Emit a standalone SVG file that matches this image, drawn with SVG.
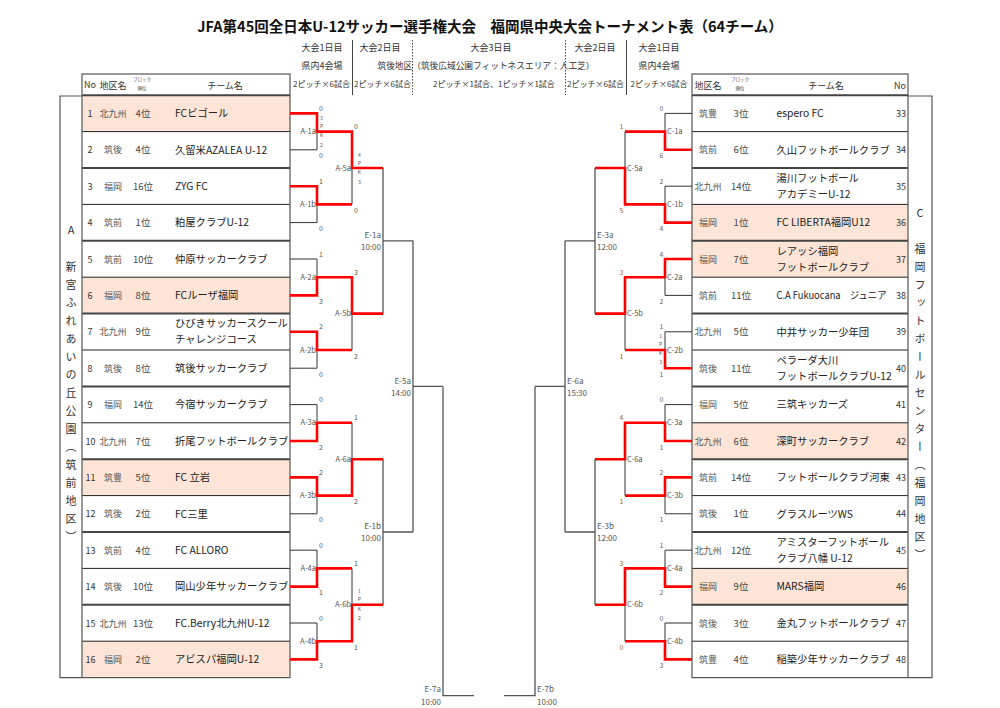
<svg xmlns="http://www.w3.org/2000/svg" width="1000" height="708" viewBox="0 0 1000 708">
<style>
text{font-family:"Noto Sans CJK JP","Noto Sans",sans-serif;}
.ttl{font-size:14.5px;font-weight:bold;fill:#111;text-anchor:middle;}
.hd{font-size:9px;fill:#333;text-anchor:middle;}
.hd2{font-size:8px;fill:#333;text-anchor:middle;}
.th{font-size:9px;fill:#333;}
.tiny{font-size:4.5px;fill:#444;text-anchor:middle;}
.no{font-size:9px;fill:#333;}
.rg{font-size:9px;fill:#555;text-anchor:middle;}
.rk{font-size:9.5px;fill:#444;text-anchor:middle;}
.t{font-size:10.3px;fill:#222;}
.sc{font-size:7px;fill:#555;}
.scr{font-size:7px;fill:#666;text-anchor:end;}
.scr2{font-size:7px;fill:#9a6a2a;text-anchor:end;}
.pk{font-size:5px;fill:#555;text-anchor:middle;}
.ml{font-size:7.5px;fill:#555;}
.el{font-size:8px;fill:#555;}
.vt{font-size:11px;fill:#333;text-anchor:middle;writing-mode:vertical-rl;}
.vl{font-size:11px;fill:#333;text-anchor:middle;}
.hl{fill:#FCE4D6;}
.red{fill:none;stroke:#FF0000;stroke-width:2.6;}
.blk{fill:none;stroke:#333;stroke-width:1;}
.gl{fill:none;stroke:#555;stroke-width:1.3;}
.thin{fill:none;stroke:#222;stroke-width:1;}
.thick{fill:none;stroke:#444;stroke-width:2;}
.box{fill:none;stroke:#555;stroke-width:1.2;}
.sep{fill:none;stroke:#444;stroke-width:1;}
.dot{fill:none;stroke:#444;stroke-width:1;stroke-dasharray:1.5 1.5;}
</style>
<rect width="1000" height="708" fill="#fff"/>
<text class="ttl" x="490" y="32">JFA第45回全日本U-12サッカー選手権大会　福岡県中央大会トーナメント表（64チーム）</text>

<g id="header">
<line class="sep" x1="352.5" y1="40" x2="352.5" y2="95"/>
<line class="dot" x1="412.5" y1="40" x2="412.5" y2="95"/>
<line class="dot" x1="565.5" y1="40" x2="565.5" y2="95"/>
<line class="sep" x1="626.5" y1="40" x2="626.5" y2="95"/>
<text class="hd" x="322" y="51">大会1日目</text>
<text class="hd" x="380" y="51">大会2日目</text>
<text class="hd" x="491" y="51">大会3日目</text>
<text class="hd" x="595" y="51">大会2日目</text>
<text class="hd" x="659" y="51">大会1日目</text>
<text class="hd" x="322" y="69">県内4会場</text>
<text class="hd" x="486" y="69" style="font-size:8.7px">筑後地区（筑後広域公園フィットネスエリア：人工芝）</text>
<text class="hd" x="659" y="69">県内4会場</text>
<text class="hd2" x="321.5" y="87">2ピッチ×6試合</text>
<text class="hd2" x="382.5" y="87">2ピッチ×6試合</text>
<text class="hd2" x="494" y="87">2ピッチ×1試合、1ピッチ×1試合</text>
<text class="hd2" x="595.5" y="87">2ピッチ×6試合</text>
<text class="hd2" x="659" y="87">2ピッチ×6試合</text>
</g>

<g id="left-table">
<rect class="hl" x="82" y="95.2" width="208" height="36.4"/>
<rect class="hl" x="82" y="277.2" width="208" height="36.4"/>
<rect class="hl" x="82" y="459.2" width="208" height="36.4"/>
<rect class="hl" x="82" y="641.2" width="208" height="36.4"/>
<text class="th" x="84" y="88">No</text>
<text class="th" x="113" y="88.5" text-anchor="middle">地区名</text>
<text class="tiny" x="142" y="81">ブロック</text>
<text class="tiny" x="142" y="90">順位</text>
<text class="th" x="225" y="88.5" text-anchor="middle">チーム名</text>
<path class="thin" d="M82,131.6H290M82,204.4H290M82,277.2H290M82,350H290M82,422.8H290M82,495.6H290M82,568.4H290M82,641.2H290"/>
<path class="thick" d="M82,95.2H290M82,168H290M82,240.8H290M82,313.6H290M82,386.4H290M82,459.2H290M82,532H290M82,604.8H290"/>
<rect class="box" x="82" y="74" width="208" height="603.6"/>
<path class="box" d="M82,96H60V677.6H82"/>
<text class="vl" x="71" y="234">A</text>
<text class="vt" x="71" y="267 285 303 321 339 357 375 393 411 429 447 465 483 501 519 537">新宮ふれあいの丘公園（筑前地区）</text>
</g>

<g id="team-1"><text class="no" x="87.5" y="116.9">1</text><text class="rg" x="113" y="116.9">北九州</text><text class="rk" x="143" y="116.9">4位</text><text class="t" x="175" y="117.2">FCビゴール</text></g>
<g id="team-2"><text class="no" x="87.5" y="153.3">2</text><text class="rg" x="113" y="153.3">筑後</text><text class="rk" x="143" y="153.3">4位</text><text class="t" x="175" y="153.6">久留米AZALEA U-12</text></g>
<g id="team-3"><text class="no" x="87.5" y="189.7">3</text><text class="rg" x="113" y="189.7">福岡</text><text class="rk" x="143" y="189.7">16位</text><text class="t" x="175" y="190">ZYG FC</text></g>
<g id="team-4"><text class="no" x="87.5" y="226.1">4</text><text class="rg" x="113" y="226.1">筑前</text><text class="rk" x="143" y="226.1">1位</text><text class="t" x="175" y="226.4">粕屋クラブU-12</text></g>
<g id="team-5"><text class="no" x="87.5" y="262.5">5</text><text class="rg" x="113" y="262.5">筑前</text><text class="rk" x="143" y="262.5">10位</text><text class="t" x="175" y="262.8">仲原サッカークラブ</text></g>
<g id="team-6"><text class="no" x="87.5" y="298.9">6</text><text class="rg" x="113" y="298.9">福岡</text><text class="rk" x="143" y="298.9">8位</text><text class="t" x="175" y="299.2">FCルーザ福岡</text></g>
<g id="team-7"><text class="no" x="87.5" y="335.3">7</text><text class="rg" x="113" y="335.3">北九州</text><text class="rk" x="143" y="335.3">9位</text><text class="t" x="175" y="327.3">ひびきサッカースクール</text><text class="t" x="175" y="343.3">チャレンジコース</text></g>
<g id="team-8"><text class="no" x="87.5" y="371.7">8</text><text class="rg" x="113" y="371.7">筑後</text><text class="rk" x="143" y="371.7">8位</text><text class="t" x="175" y="372">筑後サッカークラブ</text></g>
<g id="team-9"><text class="no" x="87.5" y="408.1">9</text><text class="rg" x="113" y="408.1">福岡</text><text class="rk" x="143" y="408.1">14位</text><text class="t" x="175" y="408.4">今宿サッカークラブ</text></g>
<g id="team-10"><text class="no" x="85.5" y="444.5">10</text><text class="rg" x="113" y="444.5">北九州</text><text class="rk" x="143" y="444.5">7位</text><text class="t" x="175" y="444.8">折尾フットボールクラブ</text></g>
<g id="team-11"><text class="no" x="85.5" y="480.9">11</text><text class="rg" x="113" y="480.9">筑豊</text><text class="rk" x="143" y="480.9">5位</text><text class="t" x="175" y="481.2">FC 立岩</text></g>
<g id="team-12"><text class="no" x="85.5" y="517.3">12</text><text class="rg" x="113" y="517.3">筑後</text><text class="rk" x="143" y="517.3">2位</text><text class="t" x="175" y="517.6">FC三里</text></g>
<g id="team-13"><text class="no" x="85.5" y="553.7">13</text><text class="rg" x="113" y="553.7">筑前</text><text class="rk" x="143" y="553.7">4位</text><text class="t" x="175" y="554">FC ALLORO</text></g>
<g id="team-14"><text class="no" x="85.5" y="590.1">14</text><text class="rg" x="113" y="590.1">筑後</text><text class="rk" x="143" y="590.1">10位</text><text class="t" x="175" y="590.4">岡山少年サッカークラブ</text></g>
<g id="team-15"><text class="no" x="85.5" y="626.5">15</text><text class="rg" x="113" y="626.5">北九州</text><text class="rk" x="143" y="626.5">13位</text><text class="t" x="175" y="626.8">FC.Berry北九州U-12</text></g>
<g id="team-16"><text class="no" x="85.5" y="662.9">16</text><text class="rg" x="113" y="662.9">福岡</text><text class="rk" x="143" y="662.9">2位</text><text class="t" x="175" y="663.2">アビスパ福岡U-12</text></g>

<g id="right-table">
<rect class="hl" x="692" y="204.4" width="216" height="72.8"/>
<rect class="hl" x="692" y="422.8" width="216" height="36.4"/>
<rect class="hl" x="692" y="568.4" width="216" height="36.4"/>
<text class="th" x="708" y="88.5" text-anchor="middle">地区名</text>
<text class="tiny" x="740" y="81">ブロック</text>
<text class="tiny" x="740" y="90">順位</text>
<text class="th" x="826" y="88.5" text-anchor="middle">チーム名</text>
<text class="th" x="906" y="88.5" text-anchor="end">No</text>
<path class="thin" d="M692,131.6H908M692,204.4H908M692,277.2H908M692,350H908M692,422.8H908M692,495.6H908M692,568.4H908M692,641.2H908"/>
<path class="thick" d="M692,95.2H908M692,168H908M692,240.8H908M692,313.6H908M692,386.4H908M692,459.2H908M692,532H908M692,604.8H908"/>
<rect class="box" x="692" y="74" width="216" height="603.6"/>
<path class="box" d="M908,96H932V677.6H908"/>
<text class="vl" x="920" y="217">C</text>
<text class="vt" x="920" y="249 267 285 303 321 339 357 375 393 411 429 447 465 483 501 519 537 555">福岡フットボールセンター（福岡地区）</text>
</g>

<g id="team-33"><text class="rg" x="708" y="116.9">筑豊</text><text class="rk" x="741" y="116.9">3位</text><text class="t" x="776.5" y="117.2">espero FC</text><text class="no" x="906" y="116.9" text-anchor="end">33</text></g>
<g id="team-34"><text class="rg" x="708" y="153.3">筑前</text><text class="rk" x="741" y="153.3">6位</text><text class="t" x="776.5" y="153.6">久山フットボールクラブ</text><text class="no" x="906" y="153.3" text-anchor="end">34</text></g>
<g id="team-35"><text class="rg" x="708" y="189.7">北九州</text><text class="rk" x="741" y="189.7">14位</text><text class="t" x="776.5" y="181.7">湯川フットボール</text><text class="t" x="776.5" y="197.7">アカデミーU-12</text><text class="no" x="906" y="189.7" text-anchor="end">35</text></g>
<g id="team-36"><text class="rg" x="708" y="226.1">福岡</text><text class="rk" x="741" y="226.1">1位</text><text class="t" x="776.5" y="226.4">FC LIBERTA福岡U12</text><text class="no" x="906" y="226.1" text-anchor="end">36</text></g>
<g id="team-37"><text class="rg" x="708" y="262.5">福岡</text><text class="rk" x="741" y="262.5">7位</text><text class="t" x="776.5" y="254.5">レアッシ福岡</text><text class="t" x="776.5" y="270.5">フットボールクラブ</text><text class="no" x="906" y="262.5" text-anchor="end">37</text></g>
<g id="team-38"><text class="rg" x="708" y="298.9">筑前</text><text class="rk" x="741" y="298.9">11位</text><text class="t" x="776.5" y="299.2" textLength="110" lengthAdjust="spacingAndGlyphs">C.A Fukuocana　ジュニア</text><text class="no" x="906" y="298.9" text-anchor="end">38</text></g>
<g id="team-39"><text class="rg" x="708" y="335.3">北九州</text><text class="rk" x="741" y="335.3">5位</text><text class="t" x="776.5" y="335.6">中井サッカー少年団</text><text class="no" x="906" y="335.3" text-anchor="end">39</text></g>
<g id="team-40"><text class="rg" x="708" y="371.7">筑後</text><text class="rk" x="741" y="371.7">11位</text><text class="t" x="776.5" y="363.7">ペラーダ大川</text><text class="t" x="776.5" y="379.7">フットボールクラブU-12</text><text class="no" x="906" y="371.7" text-anchor="end">40</text></g>
<g id="team-41"><text class="rg" x="708" y="408.1">福岡</text><text class="rk" x="741" y="408.1">5位</text><text class="t" x="776.5" y="408.4">三筑キッカーズ</text><text class="no" x="906" y="408.1" text-anchor="end">41</text></g>
<g id="team-42"><text class="rg" x="708" y="444.5">北九州</text><text class="rk" x="741" y="444.5">6位</text><text class="t" x="776.5" y="444.8">深町サッカークラブ</text><text class="no" x="906" y="444.5" text-anchor="end">42</text></g>
<g id="team-43"><text class="rg" x="708" y="480.9">筑前</text><text class="rk" x="741" y="480.9">14位</text><text class="t" x="776.5" y="481.2">フットボールクラブ河東</text><text class="no" x="906" y="480.9" text-anchor="end">43</text></g>
<g id="team-44"><text class="rg" x="708" y="517.3">筑後</text><text class="rk" x="741" y="517.3">1位</text><text class="t" x="776.5" y="517.6">グラスルーツWS</text><text class="no" x="906" y="517.3" text-anchor="end">44</text></g>
<g id="team-45"><text class="rg" x="708" y="553.7">北九州</text><text class="rk" x="741" y="553.7">12位</text><text class="t" x="776.5" y="545.7">アミスターフットボール</text><text class="t" x="776.5" y="561.7">クラブ八幡 U-12</text><text class="no" x="906" y="553.7" text-anchor="end">45</text></g>
<g id="team-46"><text class="rg" x="708" y="590.1">福岡</text><text class="rk" x="741" y="590.1">9位</text><text class="t" x="776.5" y="590.4">MARS福岡</text><text class="no" x="906" y="590.1" text-anchor="end">46</text></g>
<g id="team-47"><text class="rg" x="708" y="626.5">筑後</text><text class="rk" x="741" y="626.5">3位</text><text class="t" x="776.5" y="626.8">金丸フットボールクラブ</text><text class="no" x="906" y="626.5" text-anchor="end">47</text></g>
<g id="team-48"><text class="rg" x="708" y="662.9">筑豊</text><text class="rk" x="741" y="662.9">4位</text><text class="t" x="776.5" y="663.2">稲築少年サッカークラブ</text><text class="no" x="906" y="662.9" text-anchor="end">48</text></g>

<g id="connectors">
<path class="blk" d="M290,149.8H317V131.6M290,222.6H317V204.4M352,204.4V168M290,259H317V277.2M290,368.2H317V350M352,350V313.6M290,404.6H317V422.8M290,513.8H317V495.6M352,422.8V459.2M290,550.2H317V568.4M290,623H317V641.2M352,568.4V604.8"/>
<path class="blk" d="M692,113.4H665V131.6M692,186.2H665V204.4M625,131.6V168M692,295.4H665V277.2M692,331.8H665V350M625,350V313.6M692,404.6H665V422.8M692,513.8H665V495.6M625,495.6V459.2M692,550.2H665V568.4M692,623H665V641.2M625,641.2V604.8"/>
<path class="gl" d="M383,168V313.6M383,240.8H413M383,459.2V604.8M383,532H413M413,240.8V532M413,386.4H443M443,386.4V695.7H474"/>
<path class="gl" d="M595,168V313.6M595,240.8H565M595,459.2V604.8M595,532H565M565,240.8V532M565,386.4H535M535,386.4V695.7H504"/>
<path class="red" d="M290,113.4H317V131.6H352V168H383M290,186.2H317V204.4H352M290,295.4H317V277.2H352V313.6H383M290,331.8H317V350H352M290,477.4H317V495.6H352V459.2H383M290,441H317V422.8H352M290,659.4H317V641.2H352V604.8H383M290,586.6H317V568.4H352"/>
<path class="red" d="M692,222.6H665V204.4H625V168H595M692,149.8H665V131.6H625M692,259H665V277.2H625V313.6H595M692,368.2H665V350H625M692,441H665V422.8H625V459.2H595M692,477.4H665V495.6H625M692,586.6H665V568.4H625V604.8H595M692,659.4H665V641.2H625"/>
</g>

<g id="match-A-1a"><text class="ml" x="316" y="134.1" text-anchor="end">A-1a</text><text class="sc" x="319" y="110.9">0</text><text class="sc" x="319" y="158.3">0</text><text class="pk"><tspan x="321.5" y="120">3</tspan><tspan x="321.5" y="128">P</tspan><tspan x="321.5" y="137">K</tspan><tspan x="321.5" y="146.5">2</tspan></text></g>
<g id="match-A-1b"><text class="ml" x="316" y="206.9" text-anchor="end">A-1b</text><text class="sc" x="319" y="183.7">1</text><text class="sc" x="319" y="231.1">0</text></g>
<g id="match-A-2a"><text class="ml" x="316" y="279.7" text-anchor="end">A-2a</text><text class="sc" x="319" y="256.5">1</text><text class="sc" x="319" y="303.9">3</text></g>
<g id="match-A-2b"><text class="ml" x="316" y="352.5" text-anchor="end">A-2b</text><text class="sc" x="319" y="329.3">2</text><text class="sc" x="319" y="376.7">0</text></g>
<g id="match-A-3a"><text class="ml" x="316" y="425.3" text-anchor="end">A-3a</text><text class="sc" x="319" y="402.1">0</text><text class="sc" x="319" y="449.5">2</text></g>
<g id="match-A-3b"><text class="ml" x="316" y="498.1" text-anchor="end">A-3b</text><text class="sc" x="319" y="474.9">2</text><text class="sc" x="319" y="522.3">0</text></g>
<g id="match-A-4a"><text class="ml" x="316" y="570.9" text-anchor="end">A-4a</text><text class="sc" x="319" y="547.7">0</text><text class="sc" x="319" y="595.1">1</text></g>
<g id="match-A-4b"><text class="ml" x="316" y="643.7" text-anchor="end">A-4b</text><text class="sc" x="319" y="620.5">0</text><text class="sc" x="319" y="667.9">3</text></g>
<g id="match-A-5a"><text class="ml" x="351" y="170.5" text-anchor="end">A-5a</text><text class="sc" x="354" y="129.1">0</text><text class="sc" x="354" y="212.9">0</text><text class="pk"><tspan x="359.3" y="157">4</tspan><tspan x="359.3" y="165">P</tspan><tspan x="359.3" y="174">K</tspan><tspan x="359.3" y="183.5">3</tspan></text></g>
<g id="match-A-5b"><text class="ml" x="351" y="316.1" text-anchor="end">A-5b</text><text class="sc" x="354" y="274.7">3</text><text class="sc" x="354" y="358.5">2</text></g>
<g id="match-A-6a"><text class="ml" x="351" y="461.7" text-anchor="end">A-6a</text><text class="sc" x="354" y="420.3">1</text><text class="sc" x="354" y="504.1">2</text></g>
<g id="match-A-6b"><text class="ml" x="351" y="607.3" text-anchor="end">A-6b</text><text class="sc" x="354" y="565.9">1</text><text class="sc" x="354" y="649.7">1</text><text class="pk"><tspan x="359.3" y="593">1</tspan><tspan x="359.3" y="601">P</tspan><tspan x="359.3" y="611">K</tspan><tspan x="359.3" y="620">2</tspan></text></g>
<g id="match-E-1a"><text class="el" x="381" y="238" text-anchor="end">E-1a</text><text class="el" x="381" y="250" text-anchor="end">10:00</text></g>
<g id="match-E-1b"><text class="el" x="381" y="529" text-anchor="end">E-1b</text><text class="el" x="381" y="541" text-anchor="end">10:00</text></g>
<g id="match-E-5a"><text class="el" x="411" y="383.5" text-anchor="end">E-5a</text><text class="el" x="411" y="395.5" text-anchor="end">14:00</text></g>
<g id="match-E-7a"><text class="el" x="441" y="691.5" text-anchor="end">E-7a</text><text class="el" x="441" y="704.5" text-anchor="end">10:00</text></g>
<g id="match-E-7b"><text class="el" x="537" y="691.5">E-7b</text><text class="el" x="537" y="704.5">10:00</text></g>
<g id="match-E-6a"><text class="el" x="567" y="383.5">E-6a</text><text class="el" x="567" y="395.5">15:30</text></g>
<g id="match-E-3a"><text class="el" x="597" y="238">E-3a</text><text class="el" x="597" y="250">12:00</text></g>
<g id="match-E-3b"><text class="el" x="597" y="529">E-3b</text><text class="el" x="597" y="541">12:00</text></g>

<g id="match-C-1a"><text class="ml" x="667" y="134.1">C-1a</text><text class="scr" x="663.5" y="110.9">0</text><text class="scr" x="663.5" y="158.3">6</text></g>
<g id="match-C-1b"><text class="ml" x="667" y="206.9">C-1b</text><text class="scr" x="663.5" y="183.7">2</text><text class="scr" x="663.5" y="231.1">4</text></g>
<g id="match-C-2a"><text class="ml" x="667" y="279.7">C-2a</text><text class="scr" x="663.5" y="256.5">4</text><text class="scr" x="663.5" y="303.9">2</text></g>
<g id="match-C-2b"><text class="ml" x="667" y="352.5">C-2b</text><text class="scr" x="663.5" y="329.3">1</text><text class="scr" x="663.5" y="376.7">1</text><text class="pk"><tspan x="660.7" y="337.5">1</tspan><tspan x="660.7" y="346">P</tspan><tspan x="660.7" y="355.3">K</tspan><tspan x="660.7" y="363.7">3</tspan></text></g>
<g id="match-C-3a"><text class="ml" x="667" y="425.3">C-3a</text><text class="scr" x="663.5" y="402.1">0</text><text class="scr" x="663.5" y="449.5">1</text></g>
<g id="match-C-3b"><text class="ml" x="667" y="498.1">C-3b</text><text class="scr" x="663.5" y="474.9">2</text><text class="scr" x="663.5" y="522.3">1</text></g>
<g id="match-C-4a"><text class="ml" x="667" y="570.9">C-4a</text><text class="scr" x="663.5" y="547.7">1</text><text class="scr" x="663.5" y="595.1">2</text></g>
<g id="match-C-4b"><text class="ml" x="667" y="643.7">C-4b</text><text class="scr" x="663.5" y="620.5">0</text><text class="scr" x="663.5" y="667.9">3</text></g>
<g id="match-C-5a"><text class="ml" x="627" y="170.5">C-5a</text><text class="scr2" x="623.5" y="129.1">1</text><text class="scr2" x="623.5" y="212.9">5</text></g>
<g id="match-C-5b"><text class="ml" x="627" y="316.1">C-5b</text><text class="scr2" x="623.5" y="274.7">3</text><text class="scr2" x="623.5" y="358.5">1</text></g>
<g id="match-C-6a"><text class="ml" x="627" y="461.7">C-6a</text><text class="scr2" x="623.5" y="420.3">4</text><text class="scr2" x="623.5" y="504.1">1</text></g>
<g id="match-C-6b"><text class="ml" x="627" y="607.3">C-6b</text><text class="scr2" x="623.5" y="565.9">3</text><text class="scr2" x="623.5" y="649.7">0</text></g>
</svg>
